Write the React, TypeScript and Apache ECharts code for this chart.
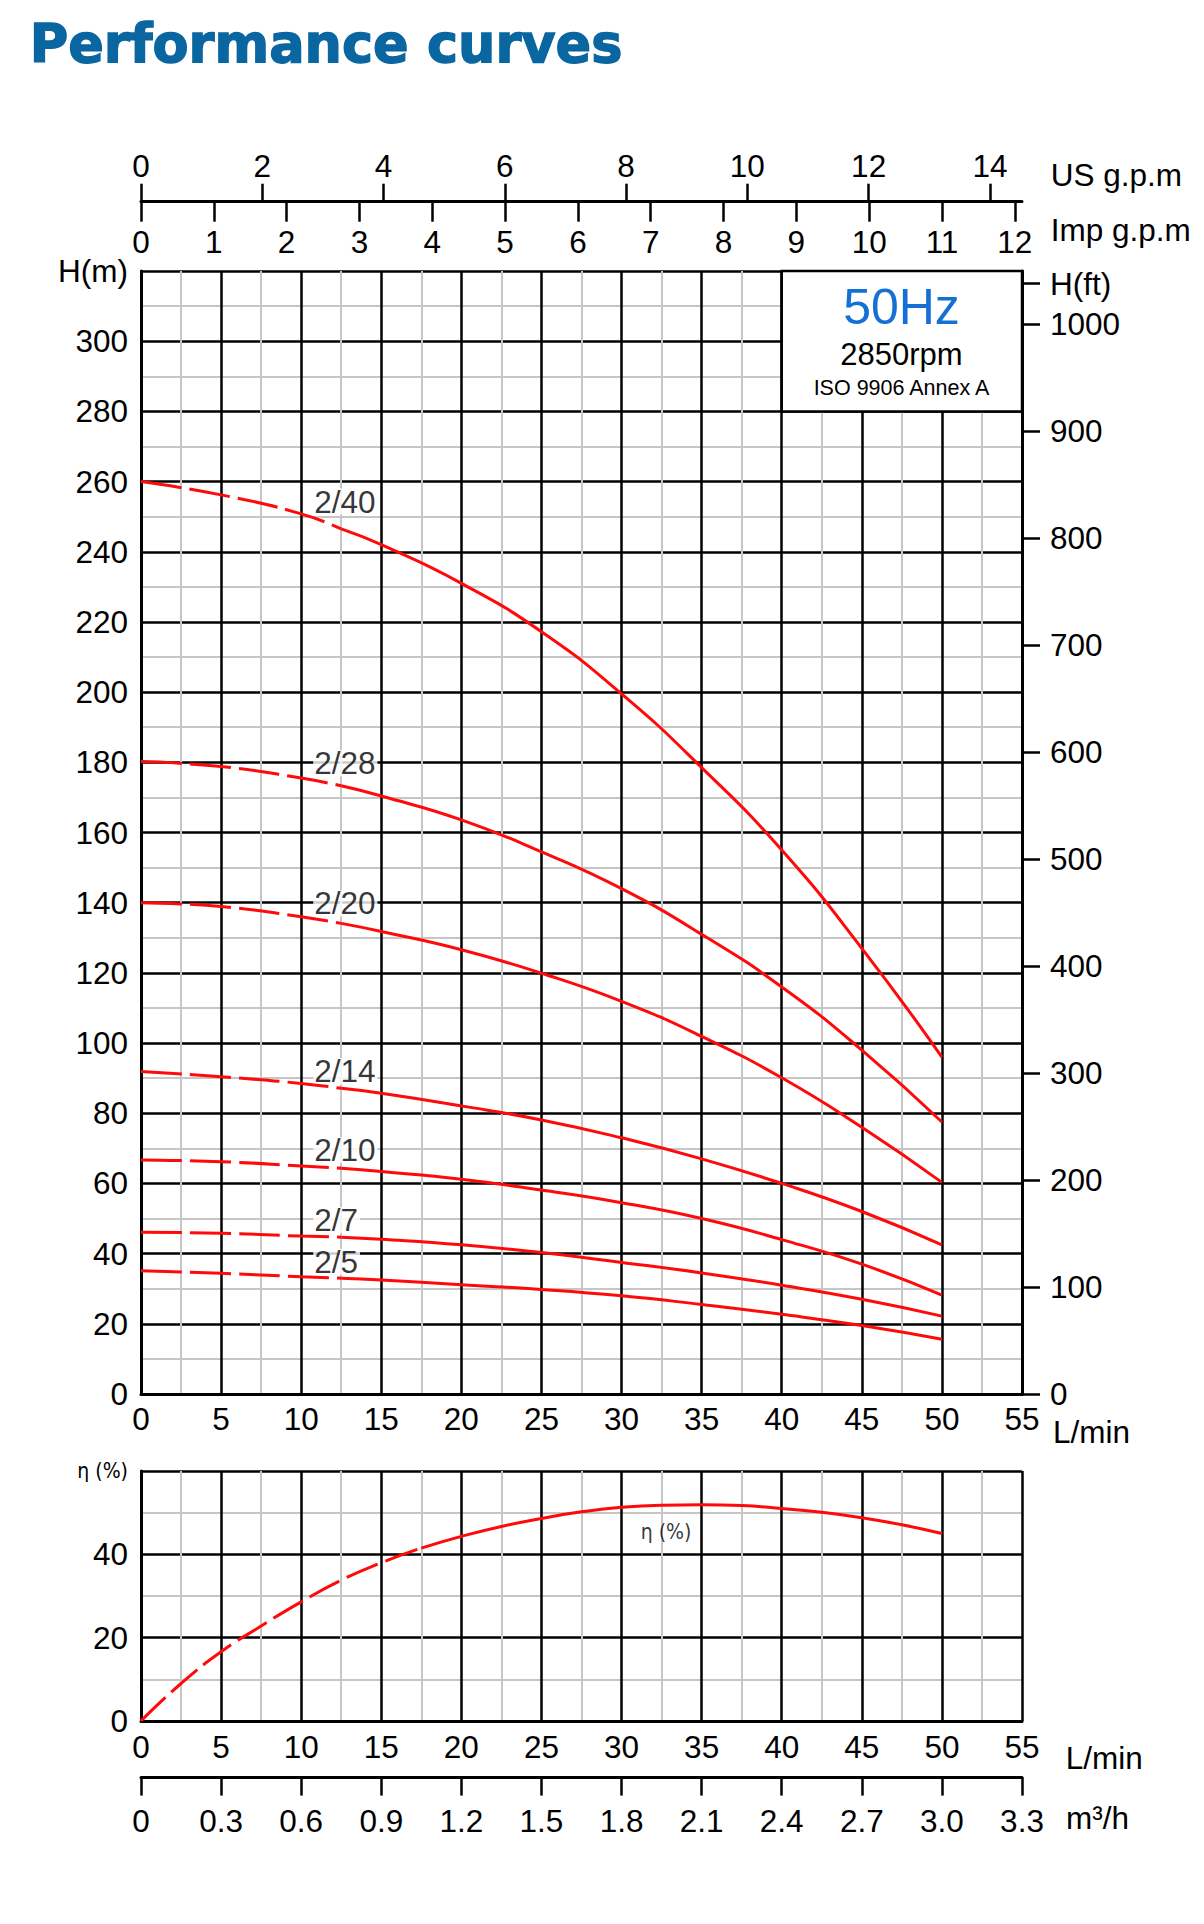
import React, { useEffect, useRef } from "react";
import * as echarts from "echarts";

// ---------- data ----------
const FLOW = [0, 5, 10, 12.5, 15, 20, 25, 30, 35, 40, 45, 50]; // L/min
const H_2_40 = [260, 256.2, 250.8, 246.5, 242, 231, 217.2, 199.5, 178.5, 155, 127, 96];
const H_2_28 = [180.2, 178.8, 175.5, 173.3, 170.4, 163.6, 154.5, 144, 131, 116, 98, 77.5];
const H_2_20 = [140, 138.9, 136, 134.1, 131.8, 126.6, 119.9, 111.9, 101.9, 90.1, 76, 60.3];
const H_2_14 = [91.9, 90.4, 88.5, 87.1, 85.7, 82.1, 78.1, 73, 67, 60, 52, 42.5];
const H_2_10 = [66.7, 66.2, 65, 64.3, 63.4, 61.2, 58.1, 54.5, 50, 44, 37, 28.2];
const H_2_7 = [46.1, 45.8, 45, 44.7, 44.1, 42.5, 40.3, 37.5, 34.5, 31, 27, 22.2];
const H_2_5 = [35.1, 34.4, 33.4, 33, 32.5, 31.1, 29.8, 28, 25.5, 22.7, 19.5, 15.6];

const MODELS = ["2/40", "2/28", "2/20", "2/14", "2/10", "2/7", "2/5"];
const HEADS = [H_2_40, H_2_28, H_2_20, H_2_14, H_2_10, H_2_7, H_2_5];
const LABEL_X = 10.75;
const LABEL_Y = [254.3, 179.7, 139.8, 92.0, 69.5, 49.6, 37.7];
const DASH_END = 12.5;

const EFF_FLOW = [0, 2.5, 5, 7.5, 10, 12.5, 15, 17.5, 20, 22.5, 25, 27.5, 30, 32.5, 35, 37.5, 40, 42.5, 45, 47.5, 50];
const EFF = [0, 9, 16.6, 22.8, 28.6, 33.8, 38, 41.5, 44.3, 46.7, 48.6, 50.2, 51.3, 51.8, 51.9, 51.7, 51, 50.1, 48.8, 47.1, 45];
const EFF_DASH_END = 17.5;
const EFF_LABEL = [31.2, 45.4];

const LMIN_MAX = 55;
const H_MAX = 320;
const EFF_MAX = 60;
const US_GAL = 3.785411784;
const IMP_GAL = 4.54609;
const FT = 0.3048;
const US_TICKS = [0, 2, 4, 6, 8, 10, 12, 14];
const IMP_TICKS = [0, 1, 2, 3, 4, 5, 6, 7, 8, 9, 10, 11, 12];
const FT_TICKS = [0, 100, 200, 300, 400, 500, 600, 700, 800, 900, 1000, 1038];
const M3H_TICKS = [0, 0.3, 0.6, 0.9, 1.2, 1.5, 1.8, 2.1, 2.4, 2.7, 3.0, 3.3];
const BOX_X = [40, 55];
const BOX_Y = [280, 320];

// ---------- style ----------
const FONT = '"Liberation Sans", Arial, Helvetica, sans-serif';
const NARROW = '"Liberation Sans Narrow", "DejaVu Sans Condensed", "Liberation Sans", Arial, sans-serif';
const FS = 31.5;
const RED = "#ff0a0a";
const BLACK = "#000";
const MINOR = "#c6c6c6";

const GL = 141;
const GW = 881;

export default function App() {
  const ref = useRef<HTMLDivElement>(null);

  useEffect(() => {
    document.body.style.margin = "0";
    if (!ref.current) return;
    const chart = echarts.init(ref.current, undefined, { renderer: "svg" });

    const majorSplit = { show: true, lineStyle: { color: BLACK, width: 2.5 } };
    const minorSplit = { show: true, lineStyle: { color: MINOR, width: 2 } };
    const axisLineBlack = { show: true, onZero: false, lineStyle: { color: BLACK, width: 3 } };
    const labelBase = { color: BLACK, fontSize: FS, fontFamily: FONT };

    const lineCommon = {
      type: "line",
      smooth: 0.5,
      symbol: "none",
      z: 3,
      silent: true,
    };

    const series: any[] = [];
    HEADS.forEach((vals) => {
      const pts = FLOW.map((x, j) => [x, vals[j]]);
      series.push({
        ...lineCommon,
        xAxisIndex: 0,
        yAxisIndex: 0,
        data: pts.filter((p) => p[0] <= DASH_END),
        lineStyle: { color: RED, width: 3, type: [41, 8] },
      });
      series.push({
        ...lineCommon,
        xAxisIndex: 0,
        yAxisIndex: 0,
        data: pts.filter((p) => p[0] >= DASH_END),
        lineStyle: { color: RED, width: 3 },
      });
    });

    series.push({
      type: "scatter",
      xAxisIndex: 0,
      yAxisIndex: 0,
      symbolSize: 0,
      z: 2,
      silent: true,
      data: MODELS.map((m, i) => ({ value: [LABEL_X, LABEL_Y[i]], name: m })),
      label: {
        show: true,
        position: "right",
        distance: 0,
        formatter: (p: any) => p.name,
        ...labelBase,
        backgroundColor: "#fff",
        padding: [0, 2, 0, 1],
        lineHeight: 26,
      },
      markArea: {
        silent: true,
        itemStyle: { color: "#fff", borderColor: BLACK, borderWidth: 2.5 },
        data: [[{ coord: [BOX_X[0], BOX_Y[0]] }, { coord: [BOX_X[1], BOX_Y[1]] }]],
      },
    });

    const effPts = EFF_FLOW.map((x, j) => [x, EFF[j]]);
    series.push({
      ...lineCommon,
      xAxisIndex: 3,
      yAxisIndex: 2,
      data: effPts.filter((p) => p[0] <= EFF_DASH_END),
      lineStyle: { color: RED, width: 3, type: [34, 8] },
    });
    series.push({
      ...lineCommon,
      xAxisIndex: 3,
      yAxisIndex: 2,
      data: effPts.filter((p) => p[0] >= EFF_DASH_END),
      lineStyle: { color: RED, width: 3 },
    });
    series.push({
      type: "scatter",
      xAxisIndex: 3,
      yAxisIndex: 2,
      symbolSize: 0,
      silent: true,
      data: [{ value: EFF_LABEL, name: "η (%)" }],
      label: {
        show: true,
        position: "right",
        distance: 0,
        formatter: (p: any) => p.name,
        color: BLACK,
        fontSize: 21,
        fontFamily: NARROW,
      },
    });

    const option: any = {
      animation: false,
      backgroundColor: "#fff",
      grid: [
        { left: GL, top: 271, width: GW, height: 1123 },
        { left: GL, top: 1471, width: GW, height: 250 },
      ],
      xAxis: [
        {
          type: "value",
          gridIndex: 0,
          position: "bottom",
          min: 0,
          max: LMIN_MAX,
          interval: 5,
          axisLine: axisLineBlack,
          axisTick: { show: false },
          axisLabel: { ...labelBase, margin: 9 },
          splitLine: majorSplit,
          minorTick: { show: false, splitNumber: 2 },
          minorSplitLine: minorSplit,
        },
        {
          type: "value",
          gridIndex: 0,
          position: "top",
          offset: 69.3,
          min: 0,
          max: LMIN_MAX / US_GAL,
          axisLine: axisLineBlack,
          axisTick: {
            show: true,
            length: 18,
            inside: false,
            customValues: US_TICKS,
            lineStyle: { color: BLACK, width: 2.5 },
          },
          axisLabel: { ...labelBase, margin: 20, customValues: US_TICKS },
          splitLine: { show: false },
        },
        {
          type: "value",
          gridIndex: 0,
          position: "top",
          offset: 69.3,
          min: 0,
          max: LMIN_MAX / IMP_GAL,
          axisLine: { show: false, onZero: false },
          axisTick: {
            show: true,
            length: 20,
            inside: true,
            customValues: IMP_TICKS,
            lineStyle: { color: BLACK, width: 2.5 },
          },
          axisLabel: { ...labelBase, inside: true, margin: 24.5, customValues: IMP_TICKS },
          splitLine: { show: false },
        },
        {
          type: "value",
          gridIndex: 1,
          position: "bottom",
          min: 0,
          max: LMIN_MAX,
          interval: 5,
          axisLine: axisLineBlack,
          axisTick: { show: false },
          axisLabel: { ...labelBase, margin: 10 },
          splitLine: majorSplit,
          minorTick: { show: false, splitNumber: 2 },
          minorSplitLine: minorSplit,
        },
        {
          type: "value",
          gridIndex: 1,
          position: "bottom",
          offset: 56.6,
          min: 0,
          max: 3.3,
          axisLine: axisLineBlack,
          axisTick: {
            show: true,
            length: 18,
            inside: false,
            customValues: M3H_TICKS,
            lineStyle: { color: BLACK, width: 2.5 },
          },
          axisLabel: {
            ...labelBase,
            margin: 27,
            customValues: M3H_TICKS,
            formatter: (v: number) => (v === 0 ? "0" : v.toFixed(1)),
          },
          splitLine: { show: false },
        },
      ],
      yAxis: [
        {
          type: "value",
          gridIndex: 0,
          position: "left",
          min: 0,
          max: H_MAX,
          interval: 20,
          axisLine: axisLineBlack,
          axisTick: { show: false },
          axisLabel: {
            ...labelBase,
            margin: 13,
            formatter: (v: number) => (v === H_MAX ? "H(m)" : String(v)),
          },
          splitLine: majorSplit,
          minorTick: { show: false, splitNumber: 2 },
          minorSplitLine: minorSplit,
        },
        {
          type: "value",
          gridIndex: 0,
          position: "right",
          min: 0,
          max: H_MAX / FT,
          axisLine: axisLineBlack,
          axisTick: {
            show: true,
            length: 18,
            inside: false,
            customValues: FT_TICKS,
            lineStyle: { color: BLACK, width: 2.5 },
          },
          axisLabel: {
            ...labelBase,
            margin: 28,
            customValues: FT_TICKS,
            formatter: (v: number) => (v > 1010 ? "H(ft)" : String(v)),
          },
          splitLine: { show: false },
        },
        {
          type: "value",
          gridIndex: 1,
          position: "left",
          min: 0,
          max: EFF_MAX,
          interval: 20,
          axisLine: axisLineBlack,
          axisTick: { show: false },
          axisLabel: {
            ...labelBase,
            margin: 13,
            formatter: (v: number) => (v === EFF_MAX ? "{s|η (%)}" : String(v)),
            rich: {
              s: { fontSize: 21, color: BLACK, fontFamily: NARROW },
            },
          },
          splitLine: majorSplit,
          minorTick: { show: false, splitNumber: 2 },
          minorSplitLine: minorSplit,
        },
      ],
      graphic: [
        {
          type: "text",
          left: 29,
          top: 16,
          style: {
            text: "Performance curves",
            fill: "#0a66a0",
            stroke: "#0a66a0",
            lineWidth: 1.4,
            fontSize: 52.5,
            fontWeight: "bold",
            fontFamily: '"DejaVu Sans", sans-serif',
          },
        },
        {
          type: "text",
          x: 901.5,
          y: 306.7,
          style: {
            text: "50Hz",
            fill: "#1570d4",
            fontSize: 50,
            fontFamily: FONT,
            align: "center",
            verticalAlign: "middle",
            textAlign: "center",
            textVerticalAlign: "middle",
          },
          z: 10,
        },
        {
          type: "text",
          x: 901.5,
          y: 354,
          style: {
            text: "2850rpm",
            fill: BLACK,
            fontSize: 31,
            fontFamily: FONT,
            align: "center",
            verticalAlign: "middle",
            textAlign: "center",
            textVerticalAlign: "middle",
          },
          z: 10,
        },
        {
          type: "text",
          x: 901.5,
          y: 387.7,
          style: {
            text: "ISO 9906 Annex A",
            fill: BLACK,
            fontSize: 21.5,
            fontFamily: FONT,
            align: "center",
            verticalAlign: "middle",
            textAlign: "center",
            textVerticalAlign: "middle",
          },
          z: 10,
        },
        ...[
          { t: "US g.p.m", x: 1050.7, y: 175 },
          { t: "Imp g.p.m", x: 1050.7, y: 230 },
          { t: "L/min", x: 1053, y: 1432 },
          { t: "L/min", x: 1065.7, y: 1758 },
          { t: "m³/h", x: 1066, y: 1818.3 },
        ].map((n) => ({
          type: "text",
          x: n.x,
          y: n.y,
          style: {
            text: n.t,
            fill: BLACK,
            fontSize: FS,
            fontFamily: FONT,
            align: "left",
            verticalAlign: "middle",
            textAlign: "left",
            textVerticalAlign: "middle",
          },
        })),
      ],
      series,
    };

    chart.setOption(option);
    return () => chart.dispose();
  }, []);

  return <div ref={ref} style={{ width: 1204, height: 1924 }} />;
}
